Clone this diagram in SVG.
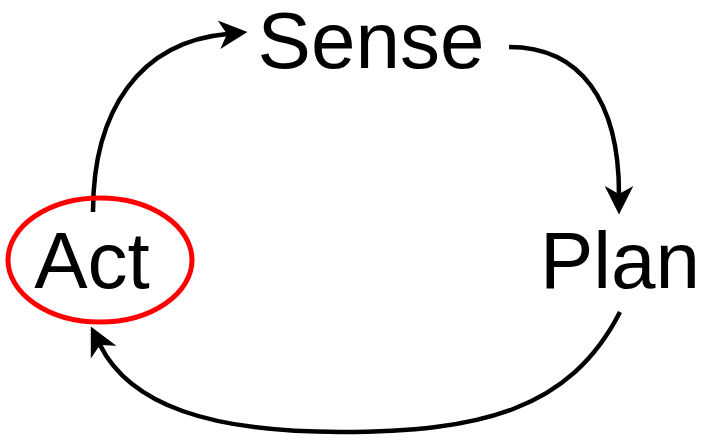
<svg xmlns="http://www.w3.org/2000/svg" width="702" height="440" viewBox="0 0 702 440">
  <style>
    .label { font-family: "Liberation Sans", Arial, sans-serif; font-size: 80px; fill: #000; text-anchor: middle; }
    .edge { fill: none; stroke: #000; stroke-width: 4.5; stroke-linecap: butt; }
  </style>
  <defs>
    <!-- notched arrowhead; the path ends at the notch and the tip extends ahead -->
    <marker id="arrow" markerUnits="userSpaceOnUse" markerWidth="32" markerHeight="32" viewBox="-9 -14 28 28" refX="0" refY="0" orient="auto" overflow="visible">
      <path d="M18,0 L-7,-12.5 L0,0 L-7,12.5 Z" fill="#000"/>
    </marker>
  </defs>
  <rect width="702" height="440" fill="#fff"/>

  <g id="edges">
    <path class="edge" d="M 93 212 C 93 110, 140 42, 227 34" marker-end="url(#arrow)"/>
    <path class="edge" d="M 509 47 C 580 47, 619 100, 619 194" marker-end="url(#arrow)"/>
    <path class="edge" d="M 620 312 C 570 410, 480 432, 340 432 C 210 432, 130 405, 100 345" marker-end="url(#arrow)"/>
  </g>

  <g id="act">
    <ellipse cx="100" cy="260" rx="92" ry="62" fill="none" stroke="#f00" stroke-width="5"/>
    <text class="label" x="92" y="288">Act</text>
  </g>
  <g id="sense">
    <text class="label" x="371" y="68">Sense</text>
  </g>
  <g id="plan">
    <text class="label" x="620" y="288">Plan</text>
  </g>
</svg>
